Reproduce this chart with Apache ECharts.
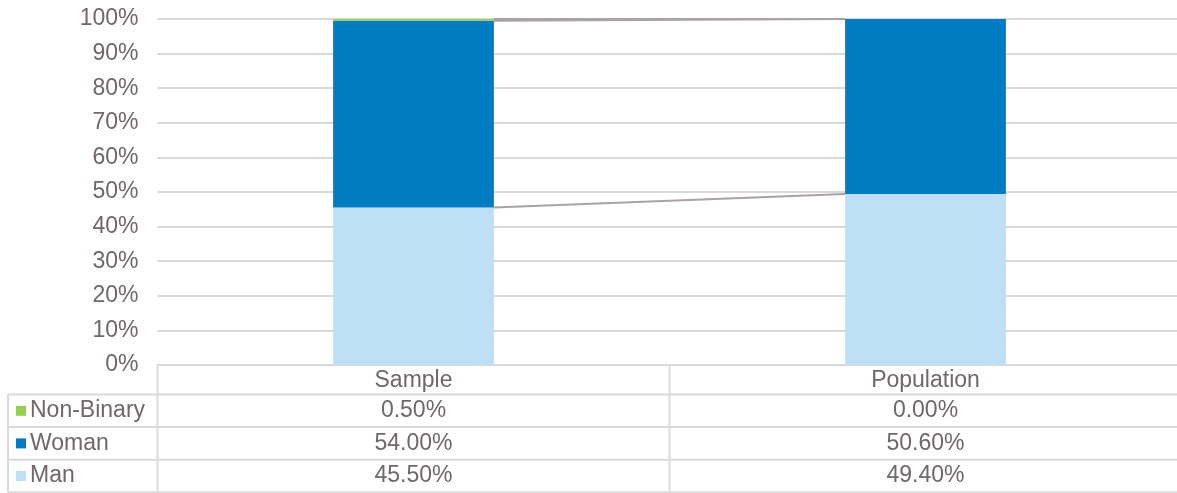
<!DOCTYPE html>
<html>
<head>
<meta charset="utf-8">
<script src="https://cdn.jsdelivr.net/npm/echarts@6/dist/echarts.min.js"></script>
<style>
html,body{margin:0;padding:0;background:#fff;}
#main{width:1177px;height:493px;}
</style>
</head>
<body>
<div id="main"></div>
<script>
// ---- data ----
var categories = ['Sample', 'Population'];
var seriesNames = ['Man', 'Woman', 'Non-Binary'];
var manValues = [45.5, 49.4];
var womanValues = [54.0, 50.6];
var nonBinaryValues = [0.5, 0.0];
var yTickLabels = ['0%','10%','20%','30%','40%','50%','60%','70%','80%','90%','100%'];

var colors = { 'Man': '#bde0f6', 'Woman': '#007cc3', 'Non-Binary': '#92d050' };
var textColor = '#6f6769';
var lineColor = '#dadada';
var FONT = 'Liberation Sans, Arial, Helvetica, sans-serif';
var FS = 23;
var BAR_FRAC = 0.314;

var valuesBySeries = { 'Man': manValues, 'Woman': womanValues, 'Non-Binary': nonBinaryValues };

// cumulative tops for series lines
var cum = [];
(function(){
  var run = categories.map(function(){return 0;});
  seriesNames.forEach(function(name){
    var vals = valuesBySeries[name];
    run = run.map(function(r,i){return r + vals[i];});
    cum.push(run.slice());
  });
})();

var lineData = [];
cum.forEach(function(arr){
  for (var i = 0; i < arr.length - 1; i++) lineData.push([i, arr[i], i + 1, arr[i + 1]]);
});

var chart = echarts.init(document.getElementById('main'));

var barSeries = seriesNames.map(function(name){
  return {
    name: name, type: 'bar', stack: 'total',
    barWidth: (BAR_FRAC * 100) + '%',
    itemStyle: { color: colors[name] },
    data: valuesBySeries[name],
    z: 3
  };
});

var option = {
  animation: false,
  grid: { left: 157.5, width: 1024, top: 19, height: 346, containLabel: false, outerBoundsMode: 'none' },
  xAxis: {
    type: 'category', data: categories,
    axisLine: { show: true, lineStyle: { color: lineColor, width: 2 } },
    axisTick: { show: false },
    axisLabel: { color: textColor, fontFamily: FONT, fontSize: FS, margin: 4 },
    splitLine: { show: false }
  },
  yAxis: {
    type: 'value', min: 0, max: 100, interval: 10,
    axisLine: { show: false }, axisTick: { show: false },
    axisLabel: {
      color: textColor, fontFamily: FONT, fontSize: FS, margin: 19,
      formatter: function(v){ return yTickLabels[Math.round(v / 10)]; }
    },
    splitLine: { lineStyle: { color: lineColor, width: 2 } }
  },
  series: barSeries.concat([{
    type: 'custom', name: 'seriesLines', silent: true, z: 2,
    data: lineData,
    renderItem: function(params, api){
      var band = api.size([1, 0])[0];
      var half = band * BAR_FRAC / 2;
      var p1 = api.coord([api.value(0), api.value(1)]);
      var p2 = api.coord([api.value(2), api.value(3)]);
      return {
        type: 'line',
        shape: { x1: p1[0] + half, y1: p1[1], x2: p2[0] - half, y2: p2[1] },
        style: { stroke: '#aaa3a4', lineWidth: 2 }
      };
    }
  }])
};
chart.setOption(option);

// ---- data table below the axis ----
function buildTable(){
  var c0 = chart.convertToPixel({ xAxisIndex: 0 }, 0);
  var c1 = chart.convertToPixel({ xAxisIndex: 0 }, 1);
  var band = c1 - c0;
  var bounds = [];
  for (var i = 0; i <= categories.length; i++) bounds.push(c0 - band / 2 + i * band);
  var axisY = chart.convertToPixel({ yAxisIndex: 0 }, 0);
  var headerBottom = axisY + 29.5;
  var rowH = 32.6;
  var tableLeft = 8;
  var rows = seriesNames.slice().reverse(); // Non-Binary, Woman, Man
  var els = [];
  var lineStyle = { stroke: lineColor, lineWidth: 2 };
  for (var r = 0; r <= rows.length; r++) {
    var y = headerBottom + r * rowH;
    els.push({ type: 'line', shape: { x1: tableLeft, y1: y, x2: bounds[bounds.length - 1], y2: y }, style: lineStyle });
  }
  var bottom = headerBottom + rows.length * rowH;
  els.push({ type: 'line', shape: { x1: tableLeft, y1: headerBottom, x2: tableLeft, y2: bottom }, style: lineStyle });
  bounds.forEach(function(x){
    els.push({ type: 'line', shape: { x1: x, y1: axisY, x2: x, y2: bottom }, style: lineStyle });
  });
  rows.forEach(function(name, r){
    var cy = headerBottom + r * rowH + rowH / 2;
    els.push({ type: 'rect', shape: { x: 16, y: cy - 5, width: 10, height: 10 }, style: { fill: colors[name] } });
    els.push({ type: 'text', x: 30, y: cy, style: { text: name, fill: textColor, font: FS + 'px ' + FONT, textVerticalAlign: 'middle', verticalAlign: 'middle' } });
    valuesBySeries[name].forEach(function(v, i){
      els.push({ type: 'text', x: (bounds[i] + bounds[i + 1]) / 2, y: cy,
        style: { text: v.toFixed(2) + '%', fill: textColor, font: FS + 'px ' + FONT, align: 'center', textAlign: 'center', verticalAlign: 'middle', textVerticalAlign: 'middle' } });
    });
  });
  chart.setOption({ graphic: { elements: els } });
}
buildTable();
</script>
</body>
</html>
